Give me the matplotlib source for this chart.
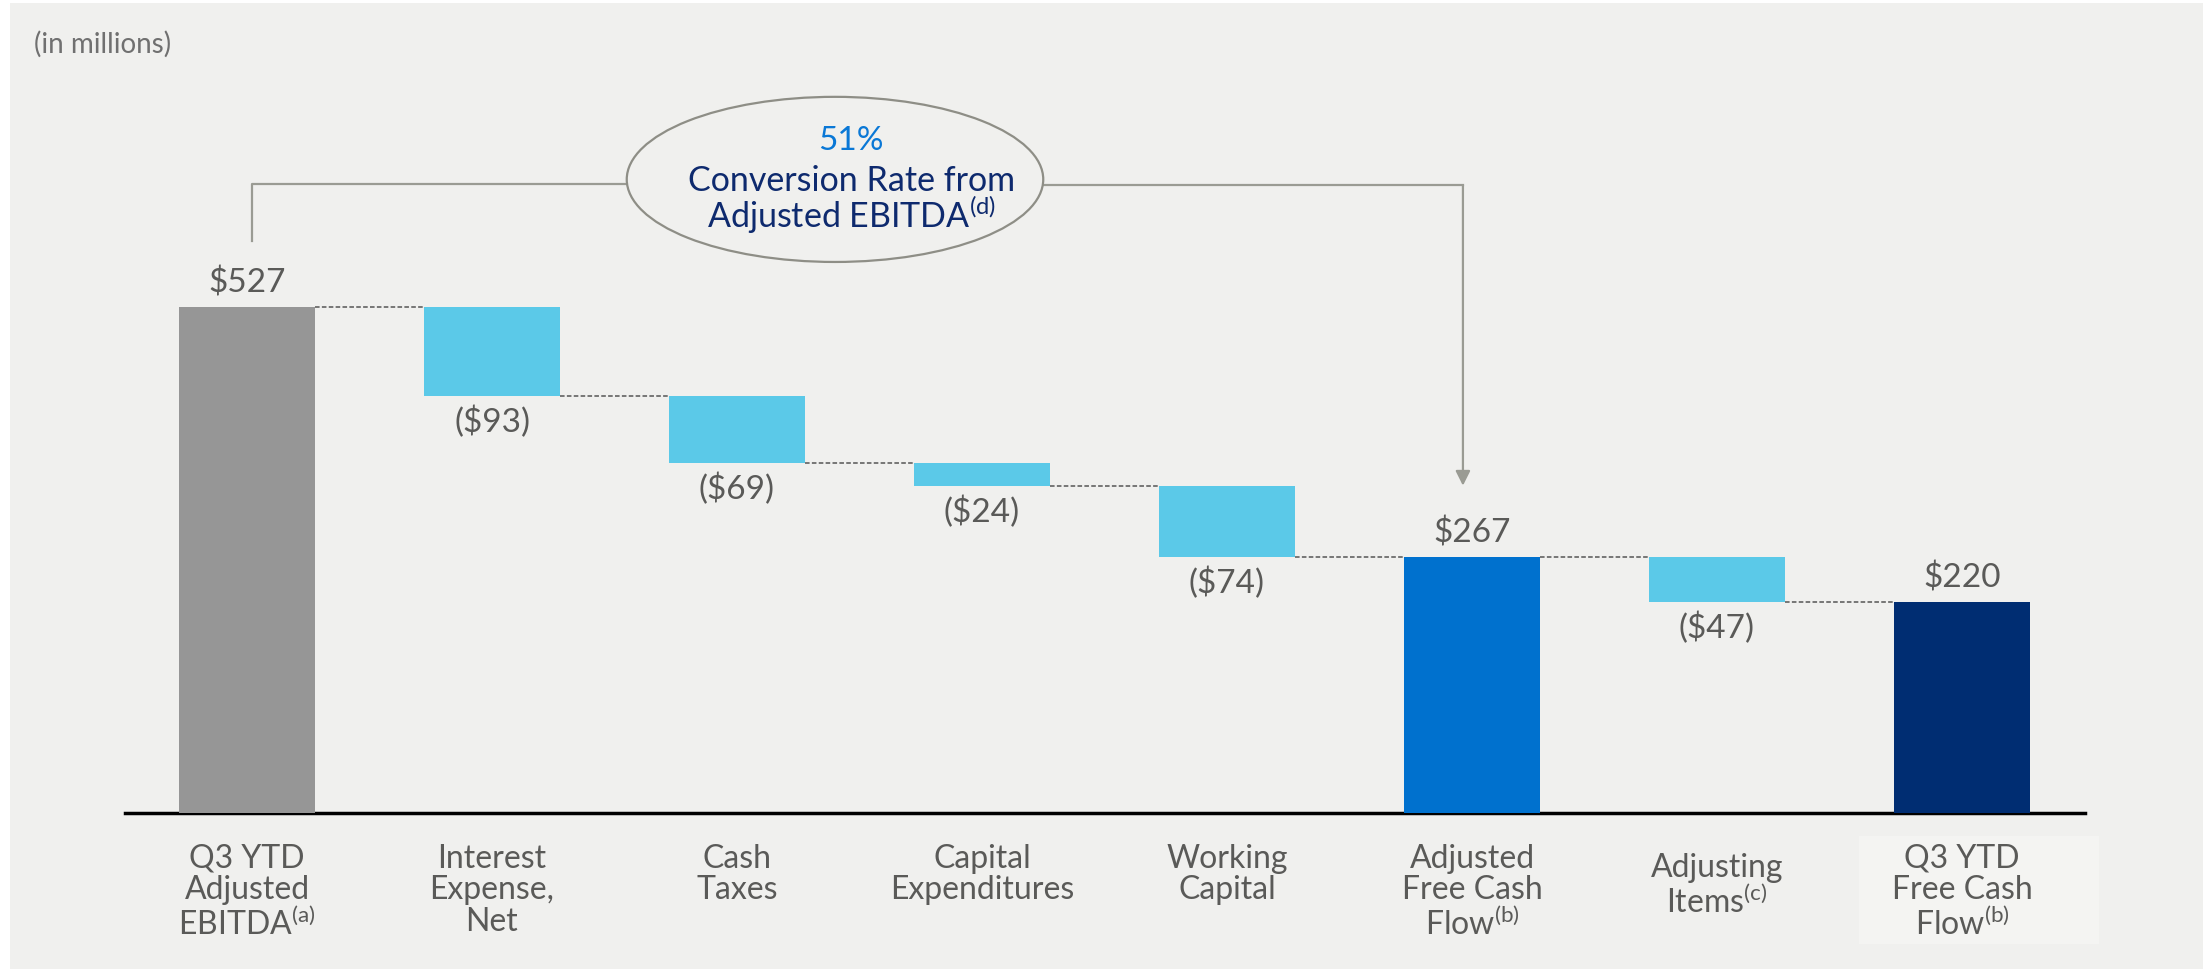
import numpy as np
import matplotlib
matplotlib.use("Agg")
import matplotlib.pyplot as plt
from matplotlib.patches import Ellipse, Rectangle
from matplotlib import font_manager

#Chart data (in millions)
categories = ["Q3 YTD\nAdjusted\nEBITDA$^{\\mathrm{(a)}}$", "Interest\nExpense,\nNet", "Cash\nTaxes",
              "Capital\nExpenditures", "Working\nCapital", "Adjusted\nFree Cash\nFlow$^{\\mathrm{(b)}}$",
              "Adjusting\nItems$^{\\mathrm{(c)}}$", "Q3 YTD\nFree Cash\nFlow$^{\\mathrm{(b)}}$"]
values = [527, -93, -69, -24, -74, 267, -47, 220]
is_total = [True, False, False, False, False, True, False, True]
value_labels = ["$527", "($93)", "($69)", "($24)", "($74)", "$267", "($47)", "$220"]
conversion_pct = "51%"

#Colours
bar_colors = ["#969696", "#5BC9E8", "#5BC9E8", "#5BC9E8", "#5BC9E8", "#0071CE", "#5BC9E8", "#002D72"]
text_gray = "#5a5a58"
line_gray = "#9a9b93"
panel_bg = "#f0f0ee"

#Pick a font if present
names = {f.name for f in font_manager.fontManager.ttflist}
fam = "Lato" if "Lato" in names else "DejaVu Sans"
plt.rcParams['font.family'] = [fam, 'DejaVu Sans']
plt.rcParams['font.weight'] = 'normal'
plt.rcParams['mathtext.fontset'] = 'custom'
plt.rcParams['mathtext.rm'] = fam
plt.rcParams['mathtext.default'] = 'regular'

W, H = 2211, 970
fig = plt.figure(figsize=(W / 100, H / 100), dpi=100, facecolor="white")

#Grey panel behind the chart
fig.patches.append(Rectangle((10 / W, 0), (2203 - 10) / W, (H - 4) / H, transform=fig.transFigure,
                             facecolor=panel_bg, edgecolor="none", zorder=-5))

#Axes: zero line at pixel 814 from top, 0.96 px per million
px_per_unit = 0.96
base_px = 814
ax_left, ax_right = 124.5, 2084.5
ax = fig.add_axes([ax_left / W, (H - base_px) / H, (ax_right - ax_left) / W, base_px / H])
ax.set_zorder(2)
ax.set_xlim(-0.5, len(values) - 0.5)
ax.set_ylim(0, base_px / px_per_unit)
ax.patch.set_alpha(0)
for s in ["top", "right", "left"]:
    ax.spines[s].set_visible(False)
ax.spines["bottom"].set_linewidth(2.5)
ax.spines["bottom"].set_color("black")
ax.set_xticks([])
ax.set_yticks([])

#Waterfall bottoms / tops
x = np.arange(len(values))
bottoms = []
tops = []
running = 0
for v, tot in zip(values, is_total):
    if tot:
        running = v
        bottoms.append(0)
        tops.append(v)
    else:
        bottoms.append(running + v)
        tops.append(running)
        running = running + v

heights = [t - b for t, b in zip(tops, bottoms)]
bw = 0.555
ax.bar(x, heights, bottom=bottoms, width=bw, color=bar_colors, zorder=3)

#Dashed connectors between bars
for i in range(len(values) - 1):
    lvl = bottoms[i] if not is_total[i] else tops[i]
    ax.plot([x[i] + bw / 2, x[i + 1] - bw / 2], [lvl, lvl], ls=(0, (3, 1.5)), color="#555555",
            lw=1.1, zorder=2)

#Value labels
for i, lab in enumerate(value_labels):
    if is_total[i]:
        ax.text(x[i], tops[i] + 26, lab, ha="center", va="center", fontsize=24, color=text_gray)
    else:
        ax.text(x[i], bottoms[i] - 26, lab, ha="center", va="center", fontsize=24, color=text_gray)

#Category labels under the axis
for i, cat in enumerate(categories):
    yoff = -31 if i != 6 else -41
    ax.text(x[i], yoff, cat, ha="center", va="top", fontsize=23, color=text_gray,
            linespacing=1.06, clip_on=False)

#Subtle lighter box behind the last label
ax.add_patch(Rectangle((x[7] - 0.42, -136), 0.98, 112, facecolor="#f4f4f2", edgecolor="none",
                       zorder=0, clip_on=False))

#Conversion bracket with arrow
br_y = 655
ax.plot([0.02, 0.02, 1.77], [596, br_y, br_y], color=line_gray, lw=1.6, zorder=1)
ax.plot([3.03, 4.963], [br_y - 1, br_y - 1], color=line_gray, lw=1.6, zorder=1)
ax.annotate("", xy=(4.963, bottoms[3]), xytext=(4.963, br_y - 1),
            arrowprops=dict(arrowstyle="-|>", color=line_gray, lw=1.6,
                            mutation_scale=22, shrinkA=0, shrinkB=0))

ax.add_patch(Ellipse((2.40, 660), 1.70, 172, facecolor=panel_bg, edgecolor="#8e8e86", lw=1.6, zorder=4))
ax.text(2.466, 701, conversion_pct, ha="center", va="center", fontsize=24, color="#0a78d6", zorder=5)
ax.text(2.466, 659, "Conversion Rate from", ha="center", va="center", fontsize=24.5, color="#0e2a6e", zorder=5)
ax.text(2.466, 624, "Adjusted EBITDA$^{\\mathrm{(d)}}$", ha="center", va="center", fontsize=24.5,
        color="#0e2a6e", zorder=5)

#Units note
fig.text(34 / W, 1 - 44 / H, "(in millions)", ha="left", va="center", fontsize=20, color="#707070")

fig.savefig("out.png", dpi=100, facecolor="white")
